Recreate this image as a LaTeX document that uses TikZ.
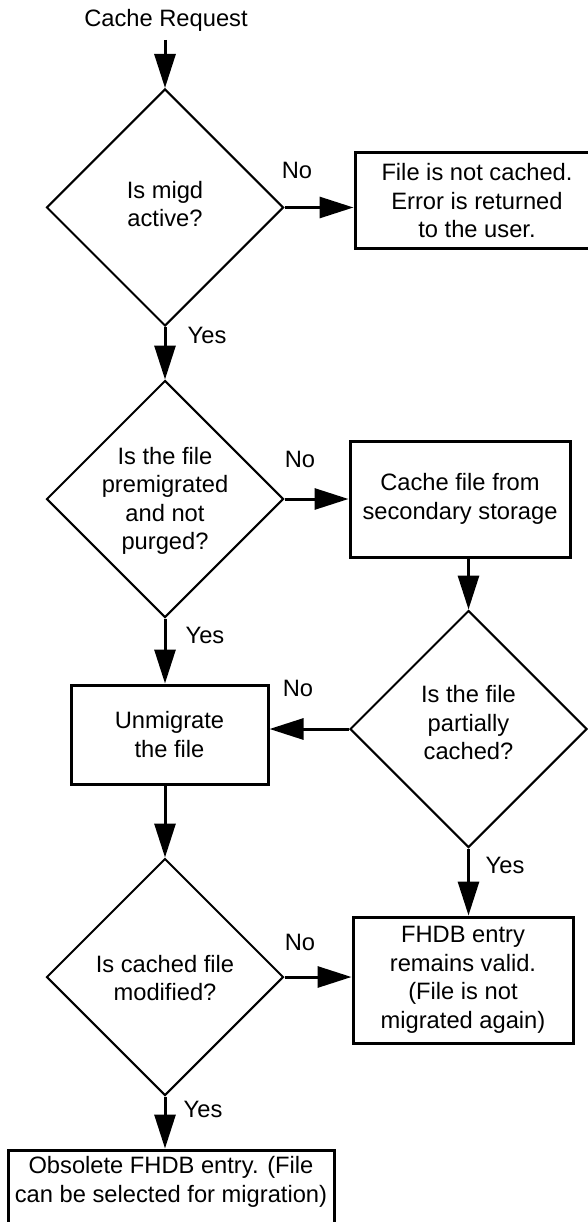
\documentclass[tikz,border=0pt]{standalone}
\usepackage{fontspec}
\setmainfont{Liberation Sans}
\usetikzlibrary{shapes.geometric,arrows.meta}
\begin{document}
\begin{tikzpicture}[x=1pt,y=-1pt,
  every node/.style={font=\fontsize{23.7}{28.5}\selectfont, inner sep=0pt},
  dia/.style={draw, diamond, line width=2pt, minimum width=237pt, minimum height=237pt, inner sep=0pt},
  box/.style={draw, rectangle, line width=3pt, align=center, inner sep=0pt},
  txt/.style={align=center},
  flow/.style={line width=3pt, -{Triangle[length=34pt,width=21pt]}}
]
\path[use as bounding box, clip] (0,0) rectangle (588,1222);

% start
\node (start) at (166,20) {Cache Request};
\coordinate (s0) at (165,40);

% decisions
\node[dia] (d1) at (165,207.5) {};
\node[txt] (t1) at (165,204) {Is migd\\active?};
\node[dia] (d2) at (165,499) {};
\node[txt] (t2) at (165,501) {Is the file\\premigrated\\and not\\purged?};
\node[dia] (d3) at (468.5,729) {};
\node[txt] (t3) at (468.5,723) {Is the file\\partially\\cached?};
\node[dia] (d4) at (165,977) {};
\node[txt] (t4) at (165,978) {Is cached file\\modified?};

% boxes
\node[box, minimum width=260pt, minimum height=96pt] (b1) at (485,201) {};
\node[txt] (t1b) at (477,201) {File is not cached.\\Error is returned\\to the user.};
\node[box, minimum width=220pt, minimum height=116pt] (b2) at (460,499) {Cache file from\\secondary storage};
\node[box, minimum width=197pt, minimum height=99pt] (b3) at (169.5,734.5) {Unmigrate\\the file};
\node[box, minimum width=220pt, minimum height=126pt] (b4) at (463,980) {FHDB entry\\remains valid.\\(File is not\\migrated again)};
\node[box, minimum width=326pt, minimum height=90pt] (b5) at (171,1195) {};
\node[txt] (t5) at (171,1182) {Obsolete FHDB entry. (File\\can be selected for migration)};

% connectors
\draw[flow] (s0) -- (d1.north);
\draw[flow] (d1.east) -- (d1.east -| b1.west);
\draw[flow] (d1.south) -- (d2.north);
\draw[flow] (d2.east) -- (d2.east -| b2.west);
\draw[flow] (d2.south) -- (d2.south |- b3.north);
\draw[flow] (d3.north |- b2.south) -- (d3.north);
\draw[flow] (d3.west) -- (d3.west -| b3.east);
\draw[flow] (d3.south) -- (d3.south |- b4.north);
\draw[flow] (d4.north |- b3.south) -- (d4.north);
\draw[flow] (d4.east) -- (d4.east -| b4.west);
\draw[flow] (d4.south) -- (d4.south |- b5.north);

% labels
\node (no1) at (297,170) {No};
\node (yes1) at (207,335) {Yes};
\node (no2) at (300,459) {No};
\node (yes2) at (205,635) {Yes};
\node (no3) at (298,688) {No};
\node (yes3) at (505,865) {Yes};
\node (no4) at (300,942) {No};
\node (yes4) at (203,1109) {Yes};
\end{tikzpicture}
\end{document}
